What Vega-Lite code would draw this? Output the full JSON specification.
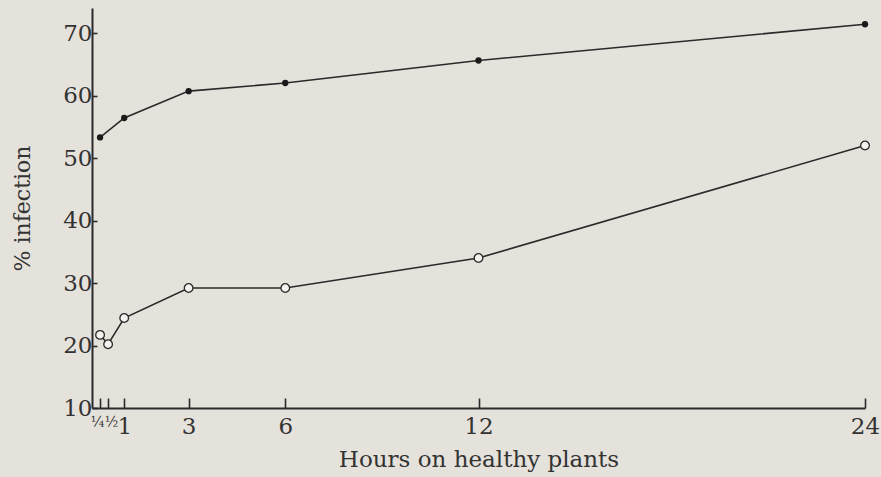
{
  "$schema": "https://vega.github.io/schema/vega-lite/v6.json",
  "autosize": {"type": "none"},
  "padding": {"left": 92, "top": 8, "right": 16, "bottom": 69},
  "width": 773,
  "height": 400,
  "background": "#e5e2db",
  "config": {
    "view": {"stroke": null},
    "font": "DejaVu Serif",
    "axis": {
      "grid": false,
      "domainColor": "#2a2a2a",
      "domainWidth": 2,
      "tickColor": "#2a2a2a",
      "tickWidth": 1.6,
      "labelColor": "#333333",
      "titleColor": "#333333",
      "labelFont": "DejaVu Serif",
      "titleFont": "DejaVu Serif",
      "titleFontWeight": "normal"
    }
  },
  "data": {
    "values": [
      {"hours": 0.25, "pct": 53.3, "series": "filled"},
      {"hours": 1, "pct": 56.4, "series": "filled"},
      {"hours": 3, "pct": 60.7, "series": "filled"},
      {"hours": 6, "pct": 62.0, "series": "filled"},
      {"hours": 12, "pct": 65.6, "series": "filled"},
      {"hours": 24, "pct": 71.4, "series": "filled"},
      {"hours": 0.25, "pct": 21.7, "series": "open"},
      {"hours": 0.5, "pct": 20.2, "series": "open"},
      {"hours": 1, "pct": 24.4, "series": "open"},
      {"hours": 3, "pct": 29.2, "series": "open"},
      {"hours": 6, "pct": 29.2, "series": "open"},
      {"hours": 12, "pct": 34.0, "series": "open"},
      {"hours": 24, "pct": 52.0, "series": "open"}
    ]
  },
  "encoding": {
    "x": {
      "field": "hours",
      "type": "quantitative",
      "scale": {"domain": [0, 24], "nice": false, "zero": false},
      "axis": {
        "title": "Hours on healthy plants",
        "titleFontSize": 23,
        "titlePadding": 10,
        "values": [0.25, 0.5, 1, 3, 6, 12, 24],
        "labelExpr": "datum.value == 0.25 ? '¼' : datum.value == 0.5 ? '½' : datum.label",
        "labelFontSize": {"condition": {"test": "datum.value < 1", "value": 14}, "value": 23},
        "labelOffset": {"condition": [{"test": "datum.value == 0.25", "value": -3}, {"test": "datum.value == 0.5", "value": 3}], "value": 0},
        "labelPadding": 17,
        "labelOverlap": false,
        "labelFlush": false,
        "tickSize": -10
      }
    },
    "y": {
      "field": "pct",
      "type": "quantitative",
      "scale": {"domain": [10, 74], "nice": false, "zero": false},
      "axis": {
        "title": "% infection",
        "titleFontSize": 22,
        "titlePadding": 28,
        "values": [10, 20, 30, 40, 50, 60, 70],
        "labelFontSize": 23,
        "labelPadding": 5,
        "labelFlush": false,
        "tickSize": -5
      }
    }
  },
  "layer": [
    {
      "mark": {"type": "line", "color": "#2a2a2a", "strokeWidth": 1.6},
      "encoding": {"detail": {"field": "series"}}
    },
    {
      "transform": [{"filter": "datum.series == 'filled'"}],
      "mark": {"type": "point", "filled": true, "color": "#1a1a1a", "size": 40, "opacity": 1}
    },
    {
      "transform": [{"filter": "datum.series == 'open'"}],
      "mark": {"type": "point", "filled": true, "fill": "#f4f3ef", "stroke": "#2a2a2a", "strokeWidth": 1.3, "size": 75, "opacity": 1}
    }
  ]
}
